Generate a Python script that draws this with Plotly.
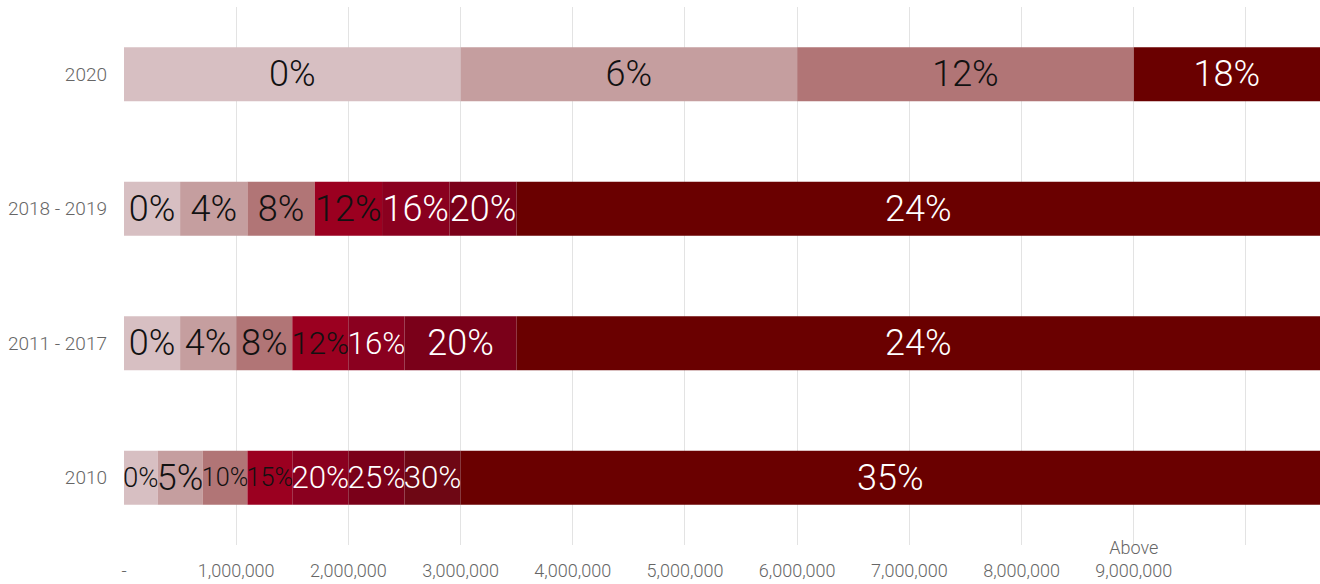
import plotly.graph_objects as go

# Income bracket upper limits (None = open-ended top bracket) and marginal rates
periods = ["2010", "2011 - 2017", "2018 - 2019", "2020"]
limits_2010 = [300_000, 700_000, 1_100_000, 1_500_000, 2_000_000, 2_500_000, 3_000_000, None]
rates_2010 = [0, 5, 10, 15, 20, 25, 30, 35]
limits_2011_2017 = [500_000, 1_000_000, 1_500_000, 2_000_000, 2_500_000, 3_500_000, None]
rates_2011_2017 = [0, 4, 8, 12, 16, 20, 24]
limits_2018_2019 = [500_000, 1_100_000, 1_700_000, 2_300_000, 2_900_000, 3_500_000, None]
rates_2018_2019 = [0, 4, 8, 12, 16, 20, 24]
limits_2020 = [3_000_000, 6_000_000, 9_000_000, None]
rates_2020 = [0, 6, 12, 18]

tick_values = [0, 1_000_000, 2_000_000, 3_000_000, 4_000_000, 5_000_000,
               6_000_000, 7_000_000, 8_000_000, 9_000_000, 10_000_000]
tick_top_lines = ["", "", "", "", "", "", "", "", "", "Above", ""]
tick_labels = ["-", "1,000,000", "2,000,000", "3,000,000", "4,000,000", "5,000,000",
               "6,000,000", "7,000,000", "8,000,000", "9,000,000", ""]

X_MAX = 10_660_000
WIDTH, HEIGHT = 1320, 584
MARGIN = dict(l=124, r=0, t=7, b=39)
FONT = "Roboto"
LABEL_SIZE = 36

band_colors = ["#D7BFC2", "#C59E9F", "#B17576", "#9B0020", "#8A001F", "#7A0019", "#6E0714"]
top_color = "#6A0000"
dark_text_bands = 4  # first bands carry dark labels, the rest white

px_per_unit = (WIDTH - MARGIN["l"] - MARGIN["r"]) / X_MAX


def label_size(text, seg_px):
    """Shrink a label so it roughly spans its segment, never above LABEL_SIZE."""
    em = sum(0.733 if ch == "%" else 0.562 for ch in text)
    return min(LABEL_SIZE, (seg_px + 2) / em)


rows = [
    (periods[0], limits_2010, rates_2010),
    (periods[1], limits_2011_2017, rates_2011_2017),
    (periods[2], limits_2018_2019, rates_2018_2019),
    (periods[3], limits_2020, rates_2020),
]

fig = go.Figure()
for period, limits, rates in rows:
    lower = 0
    for i, (upper, rate) in enumerate(zip(limits, rates)):
        is_top = upper is None
        upper = X_MAX if is_top else upper
        color = top_color if is_top else band_colors[i]
        text_color = "#FFFFFF" if (is_top or i >= dark_text_bands) else "#111111"
        label = f"{rate}%"
        fig.add_trace(go.Bar(
            y=[period], x=[upper - lower], base=[lower], orientation="h",
            marker=dict(color=color, line=dict(width=0)),
            width=0.4,
            text=[label], textposition="inside", insidetextanchor="middle",
            textangle=0, constraintext="none",
            textfont=dict(family=FONT, size=label_size(label, (upper - lower) * px_per_unit),
                          color=text_color, weight=300),
            showlegend=False, hoverinfo="skip",
        ))
        lower = upper

# Two-line tick labels: optional qualifier above the amount
tick_text = [(top if top else "\u00a0") + "<br>" + lab for top, lab in zip(tick_top_lines, tick_labels)]

fig.update_layout(
    barmode="overlay",
    width=WIDTH, height=HEIGHT,
    margin=MARGIN,
    plot_bgcolor="white", paper_bgcolor="white",
    font=dict(family=FONT, color="#666666"),
    xaxis=dict(
        range=[0, X_MAX], tickvals=tick_values, ticktext=tick_text,
        showgrid=True, gridcolor="#E3E3E3", gridwidth=1, zeroline=False,
        showline=False, ticks="", tickfont=dict(size=18, color="#666666", weight=300),
        ticklabelstandoff=-10, automargin=False, fixedrange=True,
    ),
    yaxis=dict(
        categoryorder="array", categoryarray=periods, range=[-0.5, 3.5],
        showgrid=False, zeroline=False, showline=False, ticks="",
        tickfont=dict(size=19, color="#666666", weight=300),
        ticklabelstandoff=16, automargin=False, fixedrange=True,
    ),
)

fig.write_html("out.html", config={"displayModeBar": False})
